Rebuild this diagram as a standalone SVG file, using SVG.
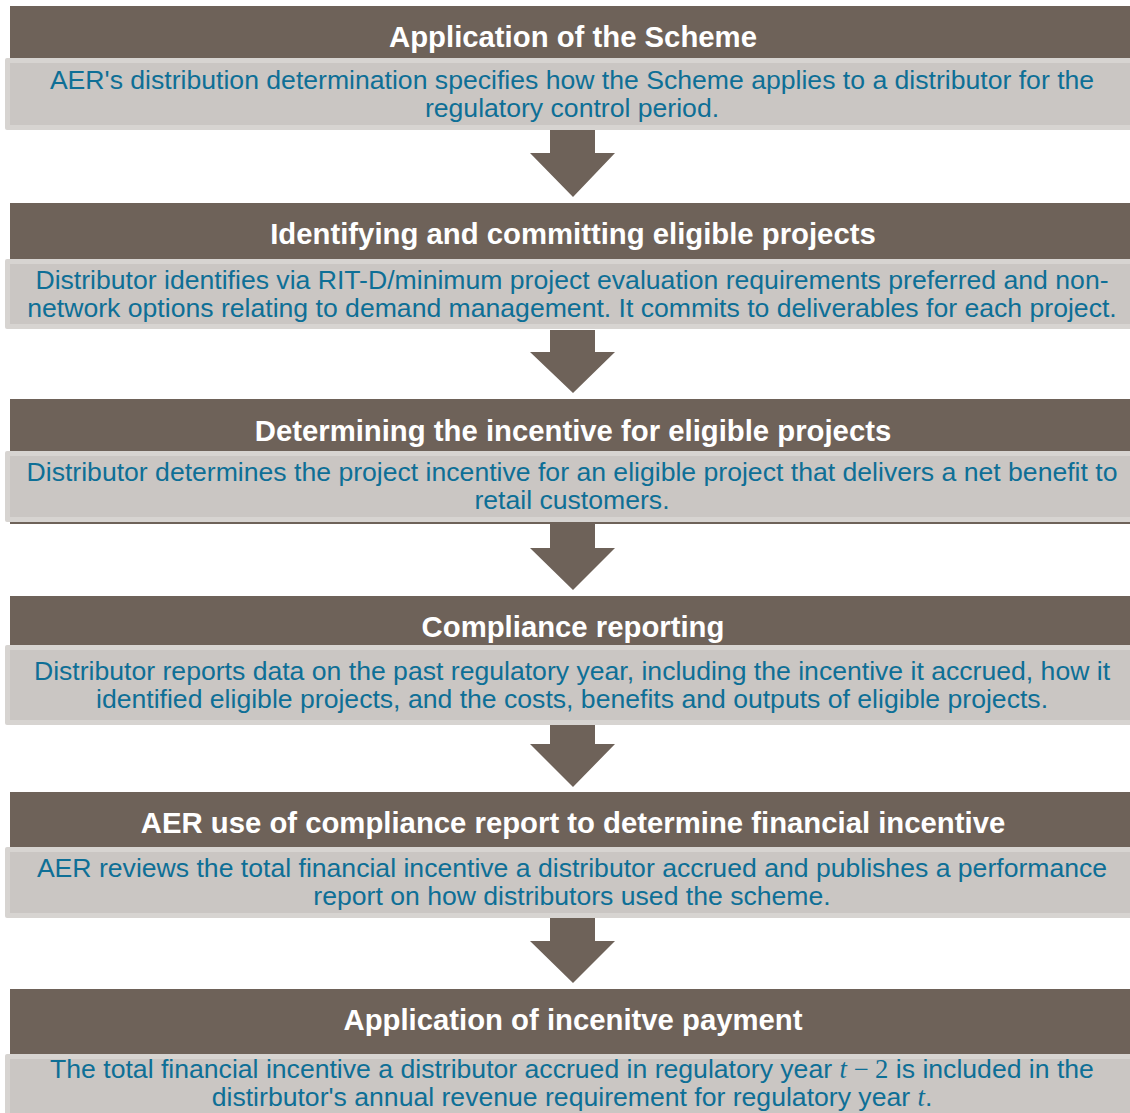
<svg xmlns="http://www.w3.org/2000/svg" width="1130" height="1113" viewBox="0 0 1130 1113">
  <style>
    .hdr { fill: #6e6259; }
    .body-edge { fill: #d7d4d1; }
    .body-fill { fill: #cac6c3; }
    .title { font-family: "Liberation Sans", Arial, sans-serif; font-weight: bold; font-size: 29.3px; fill: #ffffff; text-anchor: middle; }
    .desc { font-family: "Liberation Sans", Arial, sans-serif; font-size: 26.6px; fill: #0e6f96; text-anchor: middle; }
    .math { font-family: "Liberation Serif", "Times New Roman", serif; }
    .arrow { fill: #6e6259; }
  </style>

  <!-- Step 1 -->
  <g id="step-scheme">
    <rect class="hdr" x="10" y="6" width="1125" height="53"/>
    <rect class="body-edge" x="5" y="58" width="1130" height="72" rx="2"/>
    <rect class="body-fill" x="10" y="63" width="1125" height="62"/>
    <text class="title" x="573" y="47">Application of the Scheme</text>
    <text class="desc" x="572" y="89">AER's distribution determination specifies how the Scheme applies to a distributor for the</text>
    <text class="desc" x="572" y="117">regulatory control period.</text>
  </g>

  <!-- Step 2 -->
  <g id="step-identify">
    <rect class="hdr" x="10" y="203" width="1125" height="57"/>
    <rect class="body-edge" x="5" y="259" width="1130" height="70" rx="2"/>
    <rect class="body-fill" x="10" y="264" width="1125" height="60"/>
    <text class="title" x="573" y="244">Identifying and committing eligible projects</text>
    <text class="desc" x="572" y="289">Distributor identifies via RIT-D/minimum project evaluation requirements preferred and non-</text>
    <text class="desc" x="572" y="317">network options relating to demand management. It commits to deliverables for each project.</text>
  </g>

  <!-- Step 3 (header runs under the body, leaving a thin edge below it) -->
  <g id="step-determine">
    <rect class="hdr" x="10" y="399" width="1125" height="125"/>
    <rect class="body-edge" x="5" y="451" width="1130" height="71" rx="2"/>
    <rect class="body-fill" x="10" y="456" width="1125" height="61"/>
    <text class="title" x="573" y="441">Determining the incentive for eligible projects</text>
    <text class="desc" x="572" y="481">Distributor determines the project incentive for an eligible project that delivers a net benefit to</text>
    <text class="desc" x="572" y="509">retail customers.</text>
  </g>

  <!-- Step 4 -->
  <g id="step-compliance">
    <rect class="hdr" x="10" y="596" width="1125" height="50"/>
    <rect class="body-edge" x="5" y="645" width="1130" height="80" rx="2"/>
    <rect class="body-fill" x="10" y="650" width="1125" height="70"/>
    <text class="title" x="573" y="637">Compliance reporting</text>
    <text class="desc" x="572" y="680">Distributor reports data on the past regulatory year, including the incentive it accrued, how it</text>
    <text class="desc" x="572" y="708">identified eligible projects, and the costs, benefits and outputs of eligible projects.</text>
  </g>

  <!-- Step 5 -->
  <g id="step-aer-review">
    <rect class="hdr" x="10" y="792" width="1125" height="56"/>
    <rect class="body-edge" x="5" y="847" width="1130" height="71" rx="2"/>
    <rect class="body-fill" x="10" y="852" width="1125" height="61"/>
    <text class="title" x="573" y="833">AER use of compliance report to determine financial incentive</text>
    <text class="desc" x="572" y="877">AER reviews the total financial incentive a distributor accrued and publishes a performance</text>
    <text class="desc" x="572" y="905">report on how distributors used the scheme.</text>
  </g>

  <!-- Step 6 -->
  <g id="step-payment">
    <rect class="hdr" x="10" y="989" width="1125" height="66"/>
    <rect class="body-edge" x="5" y="1054" width="1130" height="70" rx="2"/>
    <rect class="body-fill" x="10" y="1059" width="1125" height="60"/>
    <text class="title" x="573" y="1030">Application of incenitve payment</text>
    <text class="desc" x="572" y="1078">The total financial incentive a distributor accrued in regulatory year <tspan class="math" font-style="italic">t</tspan><tspan class="math"> − 2</tspan> is included in the</text>
    <text class="desc" x="572" y="1106">distirbutor's annual revenue requirement for regulatory year <tspan class="math" font-style="italic">t</tspan>.</text>
  </g>

  <!-- Block arrows between steps -->
  <g id="connectors">
    <polygon class="arrow" points="550,130 595,130 595,153 615,153 573,197 530,153 550,153"/>
    <polygon class="arrow" points="550,330 595,330 595,352 615,352 573,393 530,352 550,352"/>
    <polygon class="arrow" points="550,523 595,523 595,548 615,548 573,590 530,548 550,548"/>
    <polygon class="arrow" points="550,725 595,725 595,744 615,744 573,787 530,744 550,744"/>
    <polygon class="arrow" points="550,918 595,918 595,941 615,941 573,983 530,941 550,941"/>
  </g>
</svg>
